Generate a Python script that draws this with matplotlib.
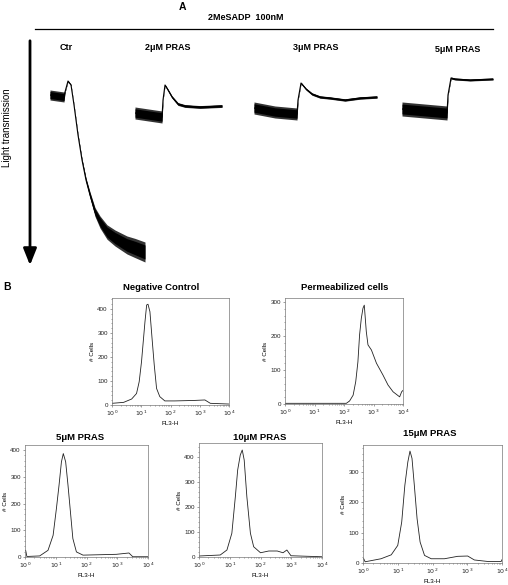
import numpy as np
import matplotlib
matplotlib.use("Agg")
import matplotlib.pyplot as plt

plt.rcParams["font.family"] = ["Liberation Sans", "DejaVu Sans"]

W, H = 508, 585

# ---- panel A: aggregation traces (time s, light transmission %, noise half-width %)
ctr_t = [0, 28, 30, 36, 42, 48, 56, 64, 72, 80, 90, 100, 114, 130, 154, 170, 190]
ctr_v = [0, 1, -1.5, -7, -5, 5, 20, 32.5, 42.5, 50, 58.5, 63.5, 68.5, 71.5, 75, 76.5, 78.5]
ctr_n = [2.5, 2.5, 0.3, 0.3, 0.3, 0.3, 0.5, 0.7, 1.0, 1.5, 2.2, 3, 3.6, 4, 4.5, 4.8, 5]

p2_t = [0, 54, 56, 60, 66, 74, 86, 100, 130, 174]
p2_v = [9, 11, 2.5, -5, -2.5, 1, 4.5, 5.5, 6, 5.5]
p2_n = [3, 3, 0.4, 0.4, 0.5, 0.6, 0.7, 0.7, 0.7, 0.7]

p3_t = [0, 42, 86, 88, 94, 104, 116, 132, 152, 182, 212, 246]
p3_v = [6.5, 8.5, 9.5, 2.5, -6, -3, -0.5, 1, 1.5, 2.5, 1.5, 1]
p3_n = [3, 3, 3, 0.4, 0.4, 0.5, 0.6, 0.6, 0.6, 0.6, 0.6, 0.6]

p5_t = [0, 90, 92, 98, 106, 136, 182]
p5_v = [7, 9, 0, -8.5, -8, -7.5, -8]
p5_n = [3.5, 3.5, 0.4, 0.5, 0.5, 0.5, 0.5]

trace_labels = ["Ctr", "2\u03bcM PRAS", "3\u03bcM PRAS", "5\u03bcM PRAS"]

# ---- panel B: flow cytometry histograms (FL3-H, # cells)
neg_x = [1, 2.5, 4.7, 6.9, 8.5, 10.2, 11.7, 13.4, 15.3, 17, 19.8, 23.9, 27.8, 33.4, 43, 64,
         140, 650, 1500, 2300, 10000]
neg_y = [7, 11, 25, 48, 97, 180, 264, 347, 417, 420, 389, 264, 167, 69, 35, 17, 17, 19,
         21, 7, 4]

perm_x = [1, 10, 120, 155, 204, 250, 296, 337, 386, 440, 487, 570, 650, 850, 1260, 2100,
          3100, 4600, 7700, 9000, 10000]
perm_y = [2, 2, 2, 9, 26, 66, 124, 203, 252, 282, 291, 213, 174, 159, 120, 85, 56, 36,
          21, 36, 40]

p5h_x = [1, 1.05, 1.15, 3, 5.6, 8.2, 10.5, 12.8, 15.3, 17.6, 21, 25, 30, 36, 47, 77, 930,
         2400, 3200, 10000]
p5h_y = [25, 25, 2, 4, 25, 81, 181, 269, 356, 387, 356, 269, 169, 69, 19, 7, 10, 15, 1, 1]

p10h_x = [1, 4.9, 8.1, 11.7, 15.2, 18.1, 22, 25.5, 29.5, 36, 47, 60, 100, 186, 350, 540,
          720, 980, 10000]
p10h_y = [4, 8, 28, 95, 241, 348, 408, 428, 388, 241, 95, 41, 17, 24, 24, 17, 28, 5, 1]

p15h_x = [1, 1.05, 1.15, 3.3, 6.5, 10, 13, 16, 19.5, 22.5, 25.7, 30, 36, 44, 59, 92, 220,
          530, 1030, 1600, 3900, 9500, 10000]
p15h_y = [14, 14, 4, 14, 27, 58, 135, 256, 333, 369, 345, 256, 146, 69, 25, 14, 14, 22,
          23, 10, 5, 5, 11]

hist_titles = ["Negative Control", "Permeabilized cells", "5\u03bcM PRAS",
               "10\u03bcM PRAS", "15\u03bcM PRAS"]


def px_axes(fig, x0, y0, x1, y1):
    return fig.add_axes([x0 / W, 1 - y1 / H, (x1 - x0) / W, (y1 - y0) / H])


def draw_trace(fig, x0, t, v, n):
    t = np.array(t)
    v = np.array(v)
    n = np.array(n)
    ax = px_axes(fig, x0, 60, x0 + t[-1] / 2.0, 270)
    # outer noise envelope in dark grey, dense core in black
    ax.fill_between(t, v - n, v + n, color="#333333", lw=0)
    ax.fill_between(t, v - 0.7 * n, v + 0.7 * n, color="black", lw=0)
    ax.plot(t, v, color="black", lw=0.8)
    ax.set_xlim(t[0], t[-1])
    ax.set_ylim(87.5, -17.5)
    ax.axis("off")
    return ax


def draw_hist(fig, box, x, y, ymax, yticks, title, title_xy):
    ax = px_axes(fig, *box)
    ax.plot(x, y, color="#222222", lw=0.6)
    ax.set_xscale("log")
    ax.set_xlim(1, 1e4)
    ax.set_ylim(0, ymax)
    ax.set_xticks([1, 10, 100, 1000, 10000])
    ax.set_xticklabels(["$10^{%d}$" % i for i in range(5)])
    ax.set_yticks(yticks)
    ax.yaxis.set_minor_locator(matplotlib.ticker.MultipleLocator(20))
    ax.tick_params(which="both", labelsize=4.5, length=1.5, width=0.4, color="#555555",
                   labelcolor="#222222", pad=1.5)
    ax.tick_params(which="minor", length=1)
    for s in ax.spines.values():
        s.set_linewidth(0.5)
        s.set_color("#777777")
    ax.set_xlabel("FL3-H", fontsize=4.5, labelpad=1.5)
    ax.set_ylabel("# Cells", fontsize=4.5, labelpad=2)
    ov.text(title_xy[0], title_xy[1], title, ha="center", va="center", fontsize=6.8,
            fontweight="bold")
    return ax


fig = plt.figure(figsize=(W / 100, H / 100), dpi=100)
ov = fig.add_axes([0, 0, 1, 1])
ov.set_xlim(0, W)
ov.set_ylim(H, 0)
ov.axis("off")

# panel A frame
ov.text(182, 7, "A", ha="center", va="center", fontsize=7.5, fontweight="bold")
ov.text(246, 17, "2MeSADP  100nM", ha="center", va="center", fontsize=6.5, fontweight="bold")
ov.plot([35, 493], [29, 29], color="black", lw=0.9)
ov.annotate("", xy=(30, 268), xytext=(30, 38),
            arrowprops=dict(arrowstyle="-|>,head_width=0.4,head_length=1.0",
                            color="black", lw=2))
ov.text(7, 128, "Light transmission", rotation=90, ha="center", va="center", fontsize=7)

draw_trace(fig, 50, ctr_t, ctr_v, ctr_n)
draw_trace(fig, 135, p2_t, p2_v, p2_n)
draw_trace(fig, 254, p3_t, p3_v, p3_n)
draw_trace(fig, 402, p5_t, p5_v, p5_n)
for lab, (lx, ly) in zip(trace_labels, [(66, 48), (168, 48), (316, 48), (458, 50)]):
    ov.text(lx, ly, lab, ha="center", va="center", fontsize=6.5, fontweight="bold")

# panel B
ov.text(7, 287, "B", ha="center", va="center", fontsize=7.5, fontweight="bold")
draw_hist(fig, (112, 298, 229, 405), neg_x, neg_y, 446, [0, 100, 200, 300, 400],
          hist_titles[0], (161, 287))
draw_hist(fig, (285, 298, 403, 404), perm_x, perm_y, 312, [0, 100, 200, 300],
          hist_titles[1], (345, 287))
draw_hist(fig, (25, 445, 148, 557), p5h_x, p5h_y, 419, [0, 100, 200, 300, 400],
          hist_titles[2], (80, 437))
draw_hist(fig, (199, 443, 322, 557), p10h_x, p10h_y, 456, [0, 100, 200, 300, 400],
          hist_titles[3], (260, 437))
draw_hist(fig, (363, 445, 502, 563), p15h_x, p15h_y, 389, [0, 100, 200, 300],
          hist_titles[4], (430, 433))

fig.savefig("out.png", dpi=100)
